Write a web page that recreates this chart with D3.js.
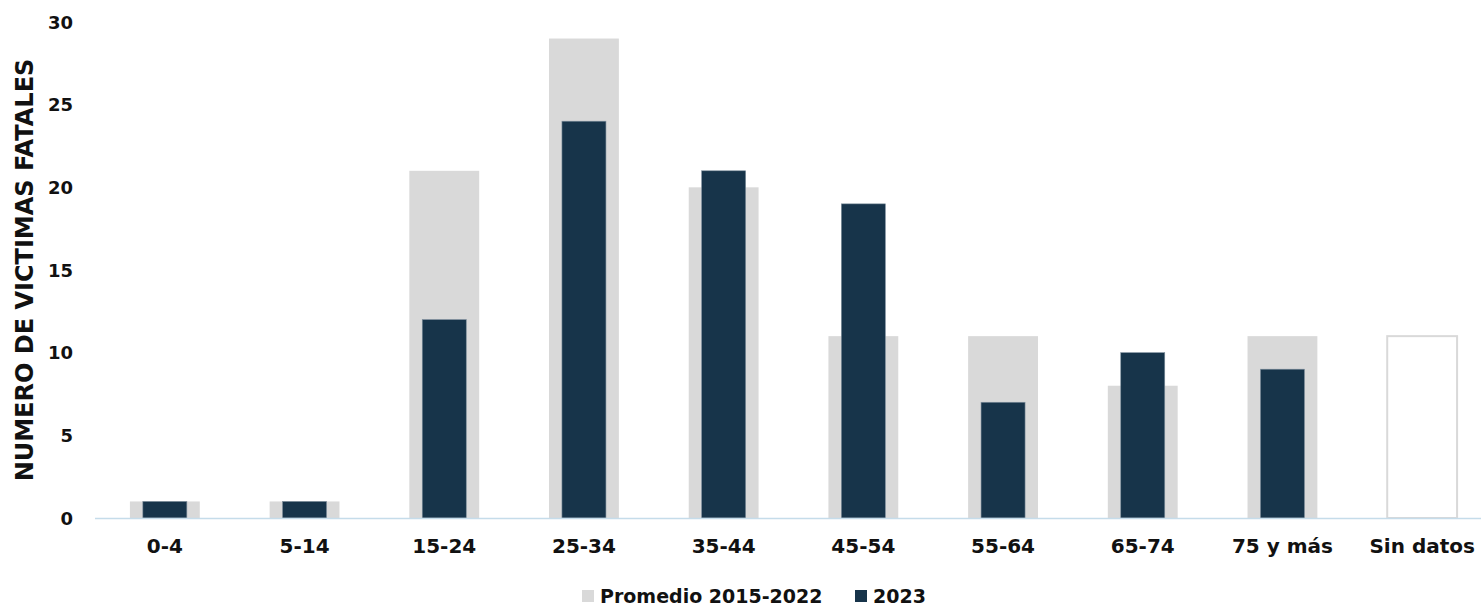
<!DOCTYPE html>
<html><head><meta charset="utf-8">
<script src="https://cdn.jsdelivr.net/npm/d3@7"></script>
<style>body{margin:0;background:#fff;} text{font-family:"DejaVu Sans",sans-serif;font-weight:bold;fill:#111;}</style>
</head><body>
<svg id="c" width="1481" height="607"></svg>
<script>
const categories = ["0-4","5-14","15-24","25-34","35-44","45-54","55-64","65-74","75 y más","Sin datos"];
const promedio = [1,1,21,29,20,11,11,8,11,11];
const y2023 = [1,1,12,24,21,19,7,10,9,0];
const yTicks = [0,5,10,15,20,25,30];
const seriesNames = ["Promedio 2015-2022","2023"];

const FONT = "DejaVu Sans, sans-serif";
const svg = d3.select("#c");
const W = 1481, H = 607;
const x = d3.scaleBand().domain(categories).range([95, 1492]).paddingInner(0).paddingOuter(0);
const y = d3.scaleLinear().domain([0,30]).range([518, 22]);

const bw = x.bandwidth();
const gW = bw*0.5, dW = bw*0.315;

// promedio bars
svg.append("g").selectAll("rect").data(categories).join("rect")
  .attr("x", (d)=>x(d)+bw/2-gW/2)
  .attr("y", (d,i)=>y(promedio[i]))
  .attr("width", gW)
  .attr("height", (d,i)=>y(0)-y(promedio[i]))
  .attr("fill", d=> d==="Sin datos" ? "#fff" : "#d9d9d9")
  .attr("stroke", d=> d==="Sin datos" ? "#d9d9d9" : "none")
  .attr("stroke-width", 2);

// 2023 bars
svg.append("g").selectAll("rect").data(categories.filter((d,i)=>y2023[i]>0)).join("rect")
  .attr("x", d=>x(d)+bw/2-dW/2)
  .attr("y", d=>y(y2023[categories.indexOf(d)]))
  .attr("width", dW)
  .attr("height", d=>y(0)-y(y2023[categories.indexOf(d)]))
  .attr("fill", "#17344a")
  .attr("stroke", "#7d8e9c").attr("stroke-width", 0.6);

// x axis line
svg.append("line").attr("x1", 95).attr("x2", W).attr("y1", y(0)+0.5).attr("y2", y(0)+0.5)
  .attr("stroke", "#c5dcea").attr("stroke-width", 1.5);

// y axis
const ya = d3.axisLeft(y).tickValues(yTicks).tickSize(0).tickPadding(0);
const yg = svg.append("g").attr("transform", `translate(73,0)`).call(ya);
yg.select(".domain").remove();
yg.selectAll("text").style("font-size","18px").style("font-family",FONT).attr("fill","#111").attr("dy","0.35em");

// x axis labels
const xa = d3.axisBottom(x).tickSize(0).tickPadding(0);
const xg = svg.append("g").attr("transform", `translate(0,${y(0)+21})`).call(xa);
xg.select(".domain").remove();
xg.selectAll("text").style("font-size","20px").style("font-family",FONT).attr("fill","#111").attr("dy","0.71em");

// y title
svg.append("text").attr("transform", `translate(33,${270}) rotate(-90)`)
  .attr("text-anchor","middle").style("font-size","24px").text("NUMERO DE VICTIMAS FATALES");

// legend
const leg = svg.append("g").attr("transform","translate(582,590)");
const lx = [0, 273];
const lc = ["#d9d9d9","#17344a"];
seriesNames.forEach((n,i)=>{
  leg.append("rect").attr("x", lx[i]).attr("y",0).attr("width",12).attr("height",12).attr("fill",lc[i]);
  leg.append("text").attr("x", lx[i]+18).attr("y",6).attr("dy","0.35em").style("font-size","19px").text(n);
});
</script>
</body></html>
